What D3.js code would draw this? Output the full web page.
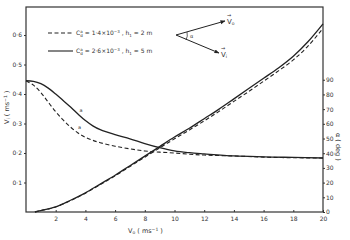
<!DOCTYPE html>
<html>
<head>
<meta charset="UTF-8">
<style>
  body { margin: 0; background: #fff; }
  svg text { font-family: "DejaVu Sans", sans-serif; fill: #333; }
  .tick text { font-size: 6px; }
</style>
</head>
<body>
<svg width="350" height="240"></svg>
<script src="https://d3js.org/d3.v7.min.js"></script>
<script>

var vo = [0, 0.5, 1, 1.5, 2, 2.5, 3, 3.5, 4, 4.5, 5, 6, 7, 8, 9, 10, 11, 12, 14, 16, 18, 20];
var viSolid = [0.445, 0.443, 0.435, 0.42, 0.4, 0.378, 0.356, 0.332, 0.31, 0.292, 0.279, 0.262, 0.248, 0.232, 0.218, 0.207, 0.201, 0.197, 0.19, 0.187, 0.185, 0.183];
var viDash = [0.445, 0.43, 0.405, 0.372, 0.34, 0.312, 0.288, 0.268, 0.253, 0.243, 0.235, 0.223, 0.214, 0.207, 0.203, 0.2, 0.196, 0.193, 0.19, 0.186, 0.184, 0.183];

var voA = [0.6, 1, 2, 3, 4, 5, 6, 7, 8, 9, 10, 11, 12, 13, 14, 15, 16, 17, 18, 19, 20];
var alphaSolid = [0, 1, 3.5, 8, 13, 19, 25, 31.5, 38, 44.5, 51, 57, 63.5, 70, 77, 84, 91, 98, 106, 116, 128];
var alphaDash = [0, 1, 3.4, 7.8, 12.8, 18.7, 24.6, 31, 37.3, 43.6, 49.8, 55.8, 62, 68.5, 75.3, 82, 89, 96, 103.5, 113, 125];

var xTicks = [2, 4, 6, 8, 10, 12, 14, 16, 18, 20];
var leftTicks = [0.1, 0.2, 0.3, 0.4, 0.5, 0.6];
var rightTicks = [0, 10, 20, 30, 40, 50, 60, 70, 80, 90];

var svg = d3.select("svg"),
    mLeft = 26, mRight = 323, mTop = 7, mBottom = 212;

var x = d3.scaleLinear().domain([0, 20]).range([mLeft, mRight]);
var yL = d3.scaleLinear().domain([0, 0.695]).range([mBottom, mTop]);
var yR = d3.scaleLinear().domain([0, 139.5]).range([mBottom, mTop]);

// frame
svg.append("rect")
    .attr("x", mLeft).attr("y", mTop)
    .attr("width", mRight - mLeft).attr("height", mBottom - mTop)
    .attr("fill", "none").attr("stroke", "#333").attr("stroke-width", 1.2);

var fmt = function (d) { return d3.format(".1f")(d).replace(".", "·"); };

svg.append("g")
    .attr("transform", "translate(0," + mBottom + ")")
    .call(d3.axisBottom(x).tickValues(xTicks).tickSize(-2).tickPadding(5).tickFormat(d3.format("d")))
    .call(function (g) { g.select(".domain").remove(); });

svg.append("g")
    .attr("transform", "translate(" + mLeft + ",0)")
    .call(d3.axisLeft(yL).tickValues(leftTicks).tickSize(2).tickPadding(2).tickFormat(fmt))
    .call(function (g) { g.select(".domain").remove(); });

svg.append("g")
    .attr("transform", "translate(" + mRight + ",0)")
    .call(d3.axisRight(yR).tickValues(rightTicks).tickSize(2).tickPadding(1).tickFormat(d3.format("d")))
    .call(function (g) { g.select(".domain").remove(); });

svg.selectAll(".tick line").attr("stroke", "#333");

function draw(xs, ys, yScale, dashed) {
    var line = d3.line()
        .x(function (d, i) { return x(xs[i]); })
        .y(function (d) { return yScale(d); })
        .curve(d3.curveCatmullRom.alpha(0.5));
    svg.append("path")
        .datum(ys)
        .attr("d", line)
        .attr("fill", "none")
        .attr("stroke", "#222")
        .attr("stroke-width", dashed ? 1.1 : 1.3)
        .attr("stroke-dasharray", dashed ? "4,2.5" : null);
}

draw(vo, viDash, yL, true);
draw(vo, viSolid, yL, false);
draw(voA, alphaDash, yR, true);
draw(voA, alphaSolid, yR, false);

// small curve marks
svg.append("text").attr("x", x(3.6)).attr("y", yL(0.34)).attr("font-size", 5).text("a");
svg.append("text").attr("x", x(3.5)).attr("y", yL(0.28)).attr("font-size", 5).text("a");

// legend
var leg = [
    { y: 33, dash: "4,2.5", c: "1·4", h: "2" },
    { y: 51, dash: null, c: "2·6", h: "5" }
];
leg.forEach(function (d) {
    svg.append("line").attr("x1", 48).attr("x2", 73).attr("y1", d.y).attr("y2", d.y)
        .attr("stroke", "#222").attr("stroke-width", 1.1).attr("stroke-dasharray", d.dash);
    var t = svg.append("text").attr("x", 76).attr("y", d.y + 2).attr("font-size", 6);
    t.append("tspan").text("C");
    t.append("tspan").attr("font-size", 4).attr("dy", -2.5).attr("dx", 0).text("a");
    t.append("tspan").attr("font-size", 4).attr("dy", 4).attr("dx", -2.4).text("d");
    t.append("tspan").attr("dy", -1.5).text(" = " + d.c + "×10");
    t.append("tspan").attr("font-size", 4).attr("dy", -2.5).text("−3");
    t.append("tspan").attr("dy", 2.5).text(" ,  h");
    t.append("tspan").attr("font-size", 4).attr("dy", 1.5).text("1");
    t.append("tspan").attr("dy", -1.5).text(" = " + d.h + " m");
});

// vector diagram
var defs = svg.append("defs");
defs.append("marker").attr("id", "ah").attr("viewBox", "0 0 10 10")
    .attr("refX", 9).attr("refY", 5).attr("markerWidth", 5).attr("markerHeight", 5)
    .attr("orient", "auto")
    .append("path").attr("d", "M0,1L10,5L0,9z").attr("fill", "#222");
var ox = 176, oy = 35;
svg.append("line").attr("x1", ox).attr("y1", oy).attr("x2", 225).attr("y2", 21)
    .attr("stroke", "#222").attr("stroke-width", 1).attr("marker-end", "url(#ah)");
svg.append("line").attr("x1", ox).attr("y1", oy).attr("x2", 219).attr("y2", 53)
    .attr("stroke", "#222").attr("stroke-width", 1).attr("marker-end", "url(#ah)");
svg.append("path").attr("d", "M187,32 A11,11 0 0 1 186,40")
    .attr("fill", "none").attr("stroke", "#222").attr("stroke-width", 0.7);
svg.append("text").attr("x", 190).attr("y", 38).attr("font-size", 5).text("α");
svg.append("text").attr("x", 227).attr("y", 24).attr("font-size", 7).text("V")
    .append("tspan").attr("font-size", 4.5).attr("dy", 1).text("o");
svg.append("text").attr("x", 221).attr("y", 57).attr("font-size", 7).text("V")
    .append("tspan").attr("font-size", 4.5).attr("dy", 1).text("i");
svg.append("text").attr("x", 227).attr("y", 17).attr("font-size", 5).text("→");
svg.append("text").attr("x", 221).attr("y", 50).attr("font-size", 5).text("→");

// axis titles
var tb = svg.append("text").attr("x", 128).attr("y", 233).attr("font-size", 6.5);
tb.append("tspan").text("V");
tb.append("tspan").attr("font-size", 4.5).attr("dy", 1).text("o");
tb.append("tspan").attr("dy", -1).text("  ( ms");
tb.append("tspan").attr("font-size", 4.5).attr("dy", -2.5).text("−1");
tb.append("tspan").attr("dy", 2.5).text(" )");

var tl = svg.append("text").attr("transform", "translate(9,124) rotate(-90)").attr("font-size", 6.5);
tl.append("tspan").text("V");
tl.append("tspan").attr("font-size", 4.5).attr("dy", 1).text("i");
tl.append("tspan").attr("dy", -1).text(" ( ms");
tl.append("tspan").attr("font-size", 4.5).attr("dy", -2.5).text("−1");
tl.append("tspan").attr("dy", 2.5).text(" )");

svg.append("text").attr("transform", "translate(336,133) rotate(90)").attr("font-size", 6.5)
    .text("α  ( deg )");

</script>
</body>
</html>
